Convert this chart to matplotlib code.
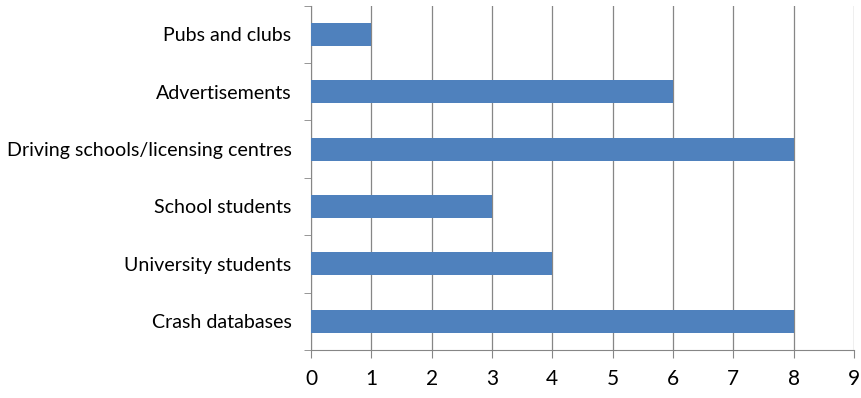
import matplotlib.pyplot as plt
import numpy as np

categories = ['Crash databases', 'University students', 'School students',
              'Driving schools/licensing centres', 'Advertisements', 'Pubs and clubs']
counts = [8, 4, 3, 8, 6, 1]
x_ticks = list(range(0, 10))

plt.rcParams['font.family'] = ['Lato', 'DejaVu Sans']

fig = plt.figure(figsize=(8.61, 3.98), dpi=100)
ax = fig.add_axes([0.3612, 0.1206, 0.6307, 0.8655])

y = np.arange(len(categories))
ax.barh(y, counts, height=0.4, color='#4F81BD', zorder=3)

ax.set_xlim(0, 9)
ax.set_ylim(-0.5, len(categories) - 0.5)
ax.set_xticks(x_ticks)
ax.tick_params(axis='x', labelsize=15, length=6, color='#868686', pad=8, direction='out')

# labels at bar centres, tick marks on the category boundaries
ax.set_yticks(y)
ax.set_yticklabels(categories)
ax.tick_params(axis='y', which='major', length=0, labelsize=14.1, pad=14)
ax.set_yticks(np.arange(-0.5, len(categories)), minor=True)
ax.tick_params(axis='y', which='minor', length=5, color='#868686')

ax.grid(axis='x', color='#868686', linewidth=0.9, zorder=0)
for side in ['top', 'right']:
    ax.spines[side].set_visible(False)
for side in ['left', 'bottom']:
    ax.spines[side].set_color('#868686')

fig.savefig('out.png', dpi=100)
